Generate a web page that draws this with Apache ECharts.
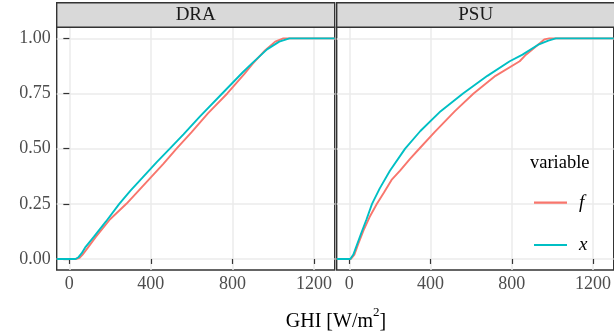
<!DOCTYPE html>
<html>
<head>
<meta charset="utf-8">
<script src="https://cdn.jsdelivr.net/npm/echarts@6/dist/echarts.min.js"></script>
<style>
html,body{margin:0;padding:0;background:#fff;}
#c{width:614px;height:335px;}
</style>
</head>
<body>
<div id="c"></div>
<script>
// ---- data ----
const panels = ['DRA', 'PSU'];
const seriesNames = ['f', 'x'];
const xTicks = [0, 400, 800, 1200];
const yTicks = [0, 0.25, 0.5, 0.75, 1.0];
const xRange = [-62, 1302];
const yRange = [-0.05, 1.05];

// ECDF curves [GHI, cumulative probability]
const draF = [[-62,0],[35,0],[50,0.005],[65,0.02],[90,0.05],[130,0.1],[200,0.18],[280,0.25],[340,0.31],[400,0.37],[460,0.43],[526,0.5],[600,0.575],[680,0.66],[775,0.75],[860,0.84],[900,0.885],[960,0.945],[1010,0.985],[1050,1],[1302,1]];
const draX = [[-62,0],[30,0],[45,0.008],[60,0.025],[80,0.055],[120,0.1],[180,0.17],[245,0.25],[300,0.31],[360,0.37],[430,0.44],[493,0.5],[560,0.565],[640,0.645],[750,0.75],[850,0.845],[900,0.89],[970,0.95],[1030,0.985],[1080,1],[1302,1]];
const psuF = [[-62,0],[8,0],[25,0.02],[45,0.07],[70,0.13],[100,0.19],[136,0.25],[170,0.3],[208,0.358],[250,0.40],[300,0.455],[340,0.495],[420,0.575],[520,0.67],[612,0.75],[720,0.83],[839,0.896],[870,0.926],[928,0.97],[960,0.995],[985,1],[1302,1]];
const psuX = [[-62,0],[5,0],[20,0.02],[40,0.07],[60,0.12],[85,0.18],[112,0.25],[150,0.32],[200,0.4],[275,0.5],[350,0.58],[450,0.67],[560,0.75],[680,0.83],[790,0.896],[853,0.926],[928,0.97],[980,0.99],[1017,1],[1302,1]];
const panelData = [[draF, draX], [psuF, psuX]];

// ---- styling / layout ----
const colors = ['#F8766D', '#00BFC4'];
const FONT = '"Liberation Serif", "DejaVu Serif", serif';
const gridBoxes = [
  {left: 56.7, top: 27.3, width: 278, height: 242.7},
  {left: 336.7, top: 27.3, width: 278, height: 242.7}
];
const stripTop = 2.7, stripH = 24.6;

const grids = gridBoxes.map(g => ({
  left: g.left, top: g.top, width: g.width, height: g.height,
  show: true, backgroundColor: '#fff', borderColor: '#333333', borderWidth: 1.4,
  containLabel: false
}));

const xAxes = panels.map((p, i) => ({
  type: 'value', gridIndex: i, min: xRange[0], max: xRange[1],
  axisLine: {show: false},
  axisTick: {show: true, length: 5, customValues: xTicks, lineStyle: {color: '#333333', width: 1.2}},
  axisLabel: {customValues: xTicks, margin: 5, color: '#4d4d4d', fontFamily: FONT, fontSize: 18,
    formatter: v => String(v)},
  splitLine: {show: true, lineStyle: {color: '#ebebeb', width: 1.5}}
}));

const yAxes = panels.map((p, i) => ({
  type: 'value', gridIndex: i, min: yRange[0], max: yRange[1],
  axisLine: {show: false},
  axisTick: {show: i === 0, length: 6, customValues: yTicks, lineStyle: {color: '#333333', width: 1.2}},
  axisLabel: {show: i === 0, customValues: yTicks, margin: 6, color: '#4d4d4d', fontFamily: FONT, fontSize: 18,
    formatter: v => v.toFixed(2)},
  splitLine: {show: true, lineStyle: {color: '#ebebeb', width: 1.5}}
}));

const series = [];
panels.forEach((p, i) => {
  seriesNames.forEach((n, j) => {
    series.push({
      name: n, type: 'line', xAxisIndex: i, yAxisIndex: i,
      data: panelData[i][j], showSymbol: false, symbol: 'none',
      lineStyle: {color: colors[j], width: 1.9}, itemStyle: {color: colors[j]},
      z: 2 + j, animation: false
    });
  });
});

const graphics = [];
panels.forEach((p, i) => {
  const g = gridBoxes[i];
  graphics.push({
    type: 'rect', shape: {x: g.left, y: stripTop, width: g.width, height: stripH},
    style: {fill: '#d9d9d9', stroke: '#333333', lineWidth: 1.4}, z: 10
  });
  graphics.push({
    type: 'text', x: g.left + g.width / 2, y: stripTop + stripH / 2 + 0.5, z: 11,
    style: {text: p, fill: '#1a1a1a', font: '19px ' + FONT, textAlign: 'center', textVerticalAlign: 'middle'}
  });
});
graphics.push({
  type: 'text', x: 336, y: 319, z: 11,
  style: {
    text: '{m|GHI [W/m}{s|2}{m|]}', textAlign: 'center', textVerticalAlign: 'middle',
    rich: {
      m: {fontFamily: FONT, fontSize: 20, fill: '#000', lineHeight: 26, verticalAlign: 'bottom'},
      s: {fontFamily: FONT, fontSize: 13, fill: '#000', lineHeight: 26, verticalAlign: 'top'}
    }
  }
});
graphics.push({
  type: 'text', x: 530, y: 163, z: 11,
  style: {text: 'variable', fill: '#000', font: '18.5px ' + FONT, textAlign: 'left', textVerticalAlign: 'middle'}
});

const chart = echarts.init(document.getElementById('c'), null, {renderer: 'canvas'});
chart.setOption({
  animation: false,
  backgroundColor: '#ffffff',
  grid: grids,
  xAxis: xAxes,
  yAxis: yAxes,
  series: series,
  legend: {
    data: seriesNames, orient: 'vertical', left: 534, top: 192.7, padding: 0,
    icon: 'rect', itemWidth: 33, itemHeight: 2.2, itemGap: 22.3,
    textStyle: {fontFamily: FONT, fontSize: 19, lineHeight: 20, fontStyle: 'italic', color: '#000', padding: [0, 0, 0, 7]},
    selectedMode: false
  },
  graphic: graphics
});
</script>
</body>
</html>
